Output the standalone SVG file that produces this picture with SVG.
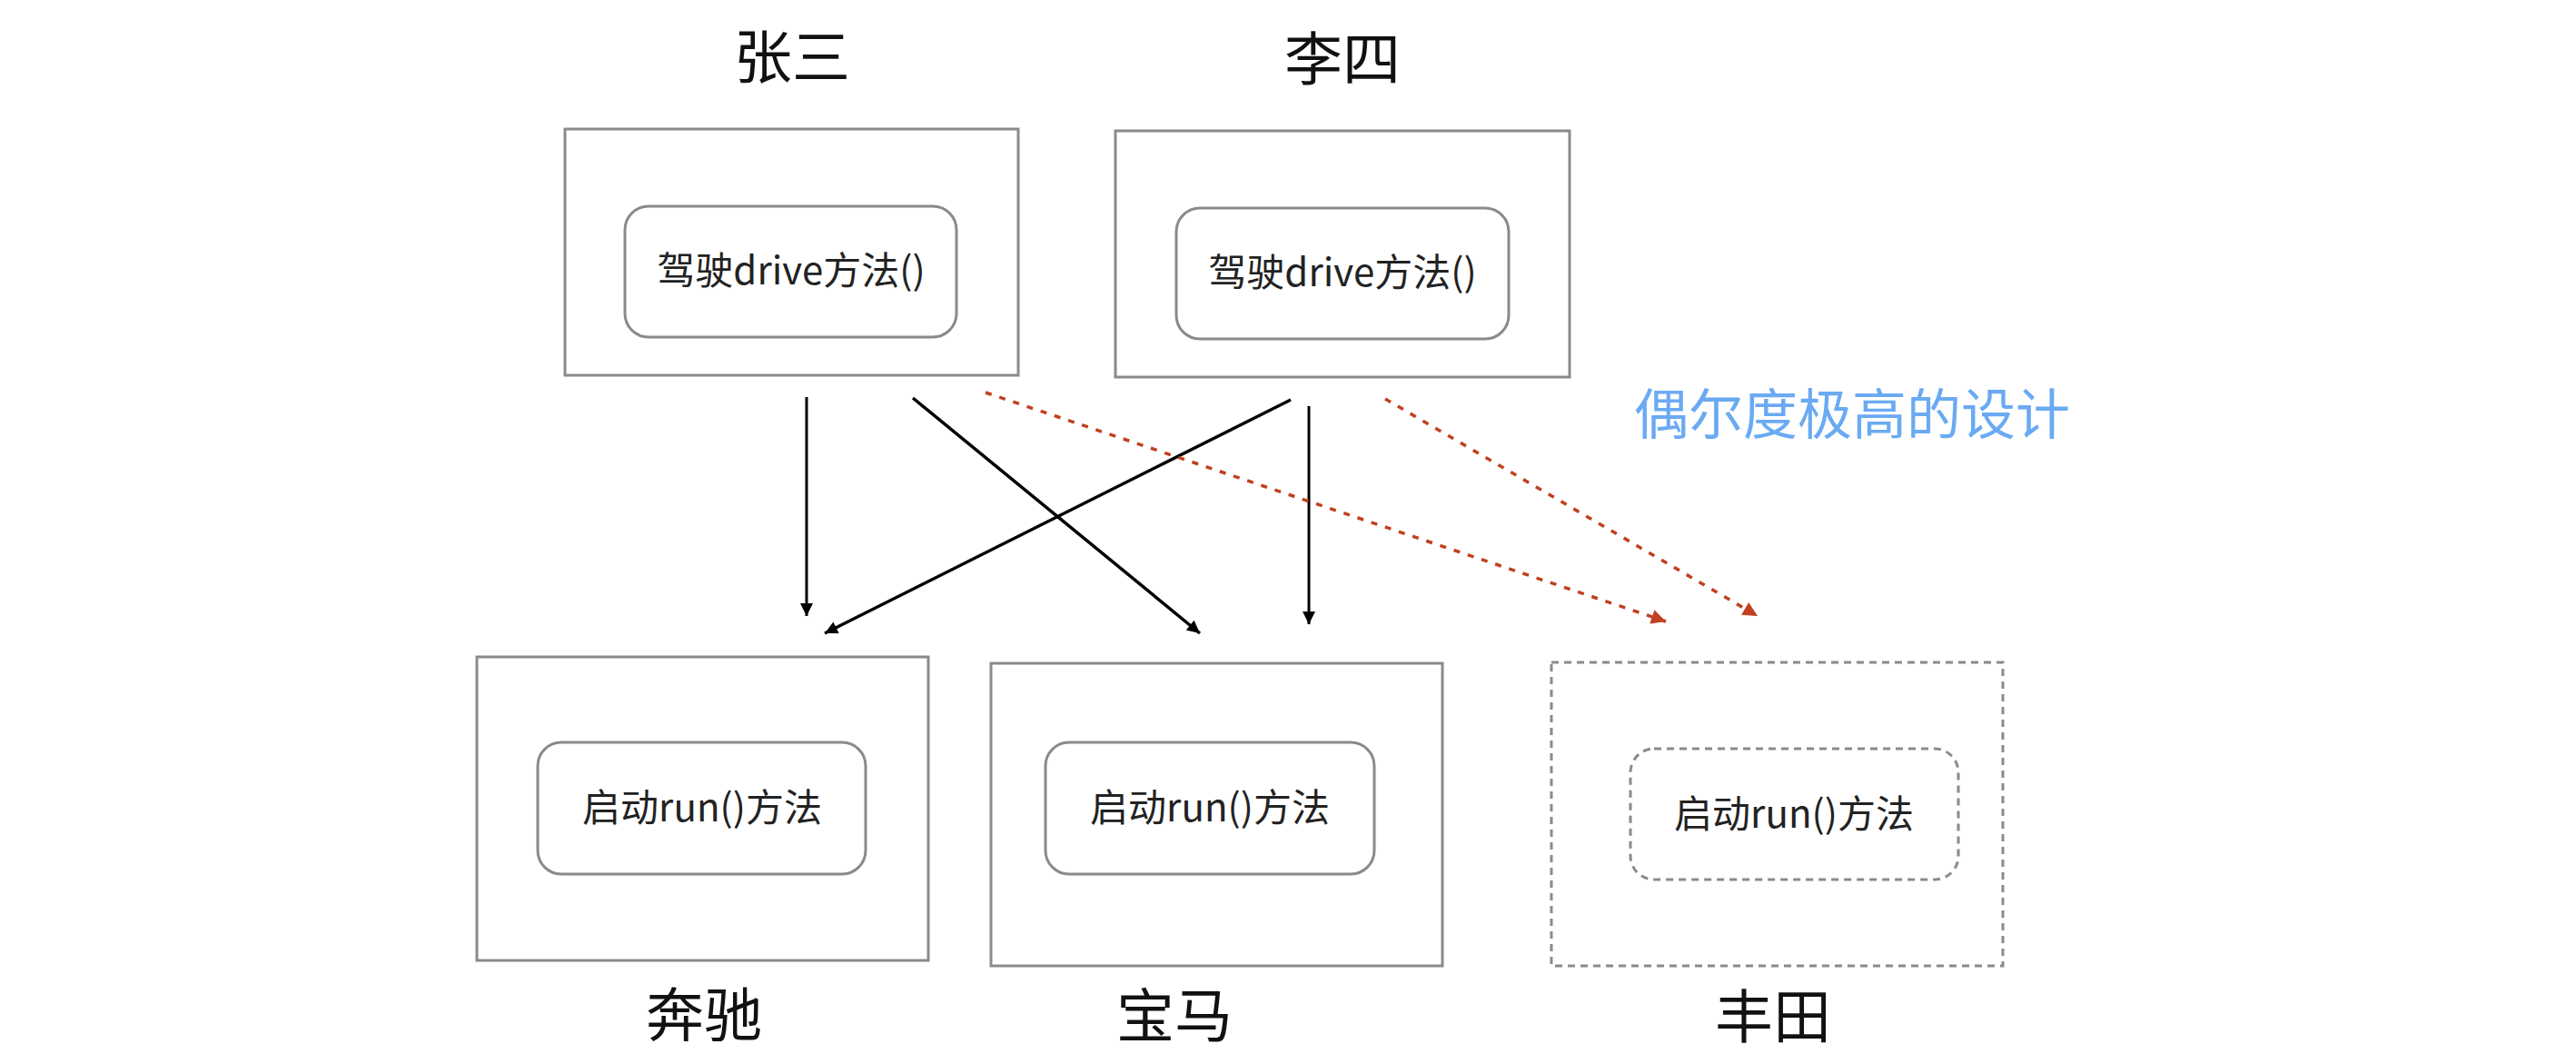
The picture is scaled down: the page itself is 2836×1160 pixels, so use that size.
<svg xmlns="http://www.w3.org/2000/svg" width="2836" height="1160" viewBox="0 0 2836 1160">
<style>
.box{fill:#fff;stroke:#8a8a8e;stroke-width:3}
.inner{fill:#fff;stroke:#8a8a8e;stroke-width:3}
.dash{stroke-dasharray:8 6}
.lbl{font-family:"Noto Sans CJK SC","Noto Sans",sans-serif;font-size:64px;fill:#111;text-anchor:middle}
.mt{font-family:"Noto Sans CJK SC","Noto Sans",sans-serif;font-size:42px;fill:#222;text-anchor:middle}
.note{font-family:"Noto Sans CJK SC",sans-serif;font-size:60px;fill:#6aaaf2;text-anchor:middle}
.blk{stroke:#000;fill:none}
.red{stroke:#c0401f;stroke-width:3.5;fill:none;stroke-dasharray:7 9}
</style>
<defs>
<marker id="ab" viewBox="0 0 10 10" refX="10" refY="5" markerWidth="18" markerHeight="14" markerUnits="userSpaceOnUse" orient="auto">
<path d="M0,0 L10,5 L0,10 z" fill="#000"/>
</marker>
<marker id="ar" viewBox="0 0 10 10" refX="10" refY="5" markerWidth="20" markerHeight="16" markerUnits="userSpaceOnUse" orient="auto">
<path d="M0,0 L10,5 L0,10 z" fill="#c0401f"/>
</marker>
</defs>
<rect width="2836" height="1160" fill="#fff"/>
<g id="zhangsan">
<text class="lbl" x="872" y="86">张三</text>
<rect class="box" x="622" y="142" width="499" height="271"/>
<rect class="inner" x="688" y="227" width="365" height="144" rx="26"/>
<text class="mt" x="871" y="313">驾驶drive方法()</text>
</g>
<g id="lisi">
<text class="lbl" x="1478" y="88">李四</text>
<rect class="box" x="1228" y="144" width="500" height="271"/>
<rect class="inner" x="1295" y="229" width="366" height="144" rx="26"/>
<text class="mt" x="1478" y="315">驾驶drive方法()</text>
</g>
<g id="benz">
<rect class="box" x="525" y="723" width="497" height="334"/>
<rect class="inner" x="592" y="817" width="361" height="145" rx="26"/>
<text class="mt" x="773" y="904">启动run()方法</text>
<text class="lbl" x="775" y="1140">奔驰</text>
</g>
<g id="bmw">
<rect class="box" x="1091" y="730" width="497" height="333"/>
<rect class="inner" x="1151" y="817" width="362" height="145" rx="26"/>
<text class="mt" x="1332" y="904">启动run()方法</text>
<text class="lbl" x="1293" y="1141">宝马</text>
</g>
<g id="toyota">
<rect class="box dash" x="1708" y="729" width="497" height="334"/>
<rect class="inner dash" x="1795" y="824" width="361" height="144" rx="26"/>
<text class="mt" x="1975" y="911">启动run()方法</text>
<text class="lbl" x="1952" y="1142">丰田</text>
</g>
<g id="note">
<text class="note" x="2039" y="478">偶尔度极高的设计</text>
</g>
<g id="connectors">
<line class="blk" stroke-width="3" x1="888" y1="437" x2="888" y2="678" marker-end="url(#ab)"/>
<line class="blk" stroke-width="3.5" x1="1005" y1="438" x2="1321" y2="697" marker-end="url(#ab)"/>
<line class="blk" stroke-width="3.5" x1="1421" y1="440" x2="908" y2="697" marker-end="url(#ab)"/>
<line class="blk" stroke-width="3" x1="1441" y1="447" x2="1441" y2="687" marker-end="url(#ab)"/>
<line class="red" x1="1085" y1="432" x2="1834" y2="684" marker-end="url(#ar)"/>
<line class="red" x1="1525" y1="439" x2="1935" y2="678" marker-end="url(#ar)"/>
</g>
</svg>
